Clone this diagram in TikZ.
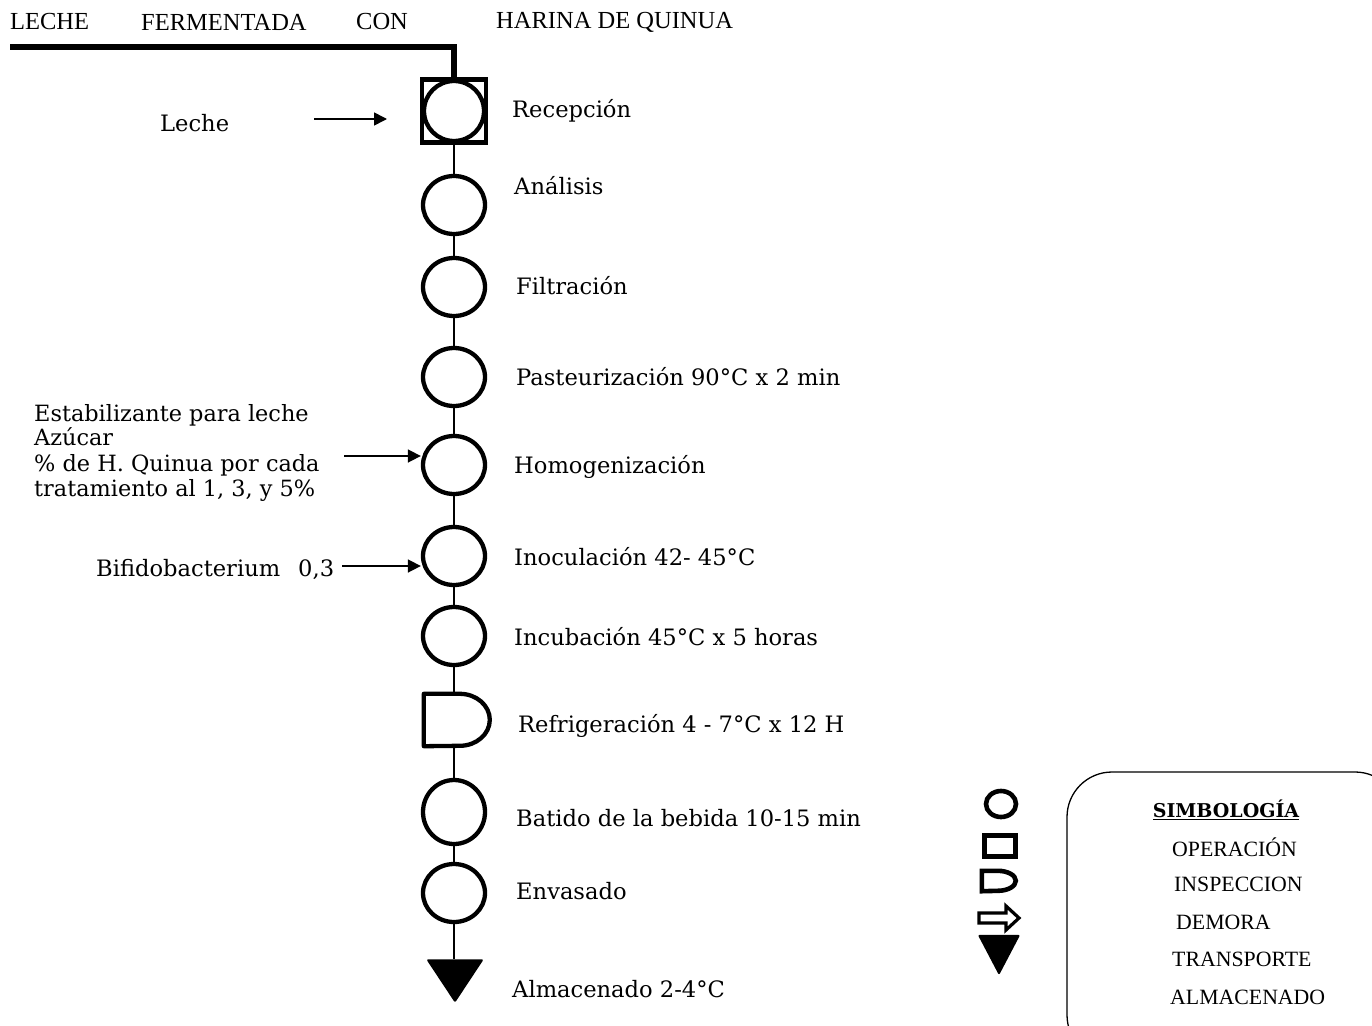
\documentclass[tikz,border=0pt]{standalone}
\usepackage{fontspec}
\setmainfont{DejaVu Serif}
\newfontfamily\tnr{Liberation Serif}
\usetikzlibrary{shapes.geometric,arrows.meta}
\begin{document}
\begin{tikzpicture}[x=1pt,y=-1pt,
  op/.style={draw,ellipse,line width=4.3pt,minimum width=62pt,minimum height=58pt,inner sep=0pt},
  lbl/.style={anchor=west,inner sep=0pt,font=\fontsize{22.6}{26}\selectfont},
  inlbl/.style={anchor=west,inner sep=0pt,font=\fontsize{22.4}{26}\selectfont,align=left},
  ttl/.style={anchor=west,inner sep=0pt,font=\tnr\fontsize{24.5}{28}\selectfont},
  leg/.style={anchor=west,inner sep=0pt,font=\tnr\fontsize{21.8}{24}\selectfont},
  conn/.style={line width=1.2pt},
  inarr/.style={line width=1.6pt,-{Triangle[length=13pt,width=13pt]}},
  sym/.style={line width=4.6pt}]
\useasboundingbox (0,0) rectangle (1372,1025);
\clip (0,0) rectangle (1372,1025);

% title
\node[ttl] (t1) at (10,22) {LECHE};
\node[ttl] (t2) at (141,22) {FERMENTADA};
\node[ttl] (t3) at (356,22) {CON};
\node[ttl] (t4) at (496,22) {HARINA DE QUINUA};

% reception
\node[draw,rectangle,line width=4.3pt,minimum width=64pt,minimum height=63pt,inner sep=0pt] (rsq) at (454,111) {};
\node[op,minimum width=60pt,minimum height=60pt] (rec) at (454,111) {};
\coordinate (tstart) at (10,47);
\draw[line width=6pt] (tstart) -| (rsq.north);

\node[op] (ana) at (454,205) {};
\node[op] (fil) at (454,287) {};
\node[op] (pas) at (454,377) {};
\node[op] (hom) at (454,465) {};
\node[op] (ino) at (454,556) {};
\node[op] (inc) at (454,636) {};
\node[inner sep=0pt,minimum width=66pt,minimum height=52pt] (ref) at (457,720) {};
\draw[line width=4.3pt,line join=round] (ref.north west) -- ++(36,0) arc[start angle=-90,end angle=90,x radius=30,y radius=26] -- (ref.south west) -- cycle;
\node[op,minimum height=64pt] (bat) at (454,812) {};
\node[op] (env) at (454,893) {};
\node[inner sep=0pt,minimum width=57pt,minimum height=43pt] (alm) at (455,981) {};
\fill[rounded corners=2pt] (alm.north west) -- (alm.north east) -- (alm.south) -- cycle;

% connectors
\draw[conn] (rsq.south) -- (ana.north);
\draw[conn] (ana.south) -- (fil.north);
\draw[conn] (fil.south) -- (pas.north);
\draw[conn] (pas.south) -- (hom.north);
\draw[conn] (hom.south) -- (ino.north);
\draw[conn] (ino.south) -- (inc.north);
\draw[conn] (inc.south) -- (inc.south |- ref.north);
\draw[conn] (bat.north |- ref.south) -- (bat.north);
\draw[conn] (bat.south) -- (env.north);
\draw[conn] (env.south) -- (env.south |- alm.north);

% labels
\node[lbl] (lrec) at (512,111) {Recepción};
\node[lbl] (lana) at (514,186) {Análisis};
\node[lbl] (lfil) at (516,286) {Filtración};
\node[lbl] (lpas) at (516,377) {Pasteurización 90°C x 2 min};
\node[lbl] (lhom) at (514,467) {Homogenización};
\node[lbl] (lino) at (514,557) {Inoculación 42- 45°C};
\node[lbl] (linc) at (514,637) {Incubación 45°C x 5 horas};
\node[lbl] (lref) at (518,726) {Refrigeración 4 - 7°C x 12 H};
\node[lbl] (lbat) at (516,818) {Batido de la bebida 10-15 min};
\node[lbl] (lenv) at (516,891) {Envasado};
\node[lbl] (lalm) at (512,989) {Almacenado 2-4°C};

% inputs
\node[lbl] (leche) at (160,123) {Leche};
\coordinate (a1s) at (314,119);
\coordinate (a1e) at (387,119);
\draw[inarr] (a1s) -- (a1e);
\node[inlbl,anchor=north west] (estab) at (34,404) {Estabilizante para leche\\[-2pt]Azúcar\\[-0pt]\% de H. Quinua por cada\\[-1pt]tratamiento al 1, 3, y 5\%};
\coordinate (a2s) at (344,456);
\draw[inarr] (a2s) -- (hom.west |- a2s);
\node[lbl] (bifi) at (96,569) {Bifidobacterium\hspace{18pt}0,3};
\coordinate (a3s) at (342,566);
\draw[inarr] (a3s) -- (ino.west |- a3s);

% legend symbols
\node[draw,ellipse,sym,minimum width=30pt,minimum height=26pt,inner sep=0pt] (s1) at (1001,804) {};
\node[draw,rectangle,sym,minimum width=31pt,minimum height=21pt,inner sep=0pt] (s2) at (1000,846) {};
\node[inner sep=0pt,minimum width=34pt,minimum height=20pt] (s3) at (999,881) {};
\draw[sym] (s3.north west) -- ++(16,0) arc[start angle=-90,end angle=90,x radius=18,y radius=10] -- (s3.south west) -- cycle;
\node[inner sep=0pt,minimum width=40pt,minimum height=28pt] (s4) at (999,918) {};
\draw[line width=3.2pt,line join=miter] (979,913) -- (1006,913) -- (1006,906) -- (1019,918) -- (1006,930) -- (1006,923) -- (979,923) -- cycle;
\node[inner sep=0pt,minimum width=42pt,minimum height=40pt] (s5) at (999,955) {};
\fill[rounded corners=2pt] (s5.north west) -- (s5.north east) -- (s5.south) -- cycle;

% legend box
\draw[line width=1.3pt,rounded corners=45pt] (1067,1060) -- (1067,772) -- (1400,772) -- (1400,1060) -- cycle;
\node[inner sep=0pt,font=\fontsize{19}{22}\selectfont\bfseries] (simb) at (1226,810) {\underline{SIMBOLOGÍA}};
\node[leg] (g1) at (1172,847) {OPERACIÓN};
\node[leg] (g2) at (1174,884) {INSPECCION};
\node[leg] (g3) at (1176,922) {DEMORA};
\node[leg] (g4) at (1172,959) {TRANSPORTE};
\node[leg] (g5) at (1170,997) {ALMACENADO};
\end{tikzpicture}
\end{document}
